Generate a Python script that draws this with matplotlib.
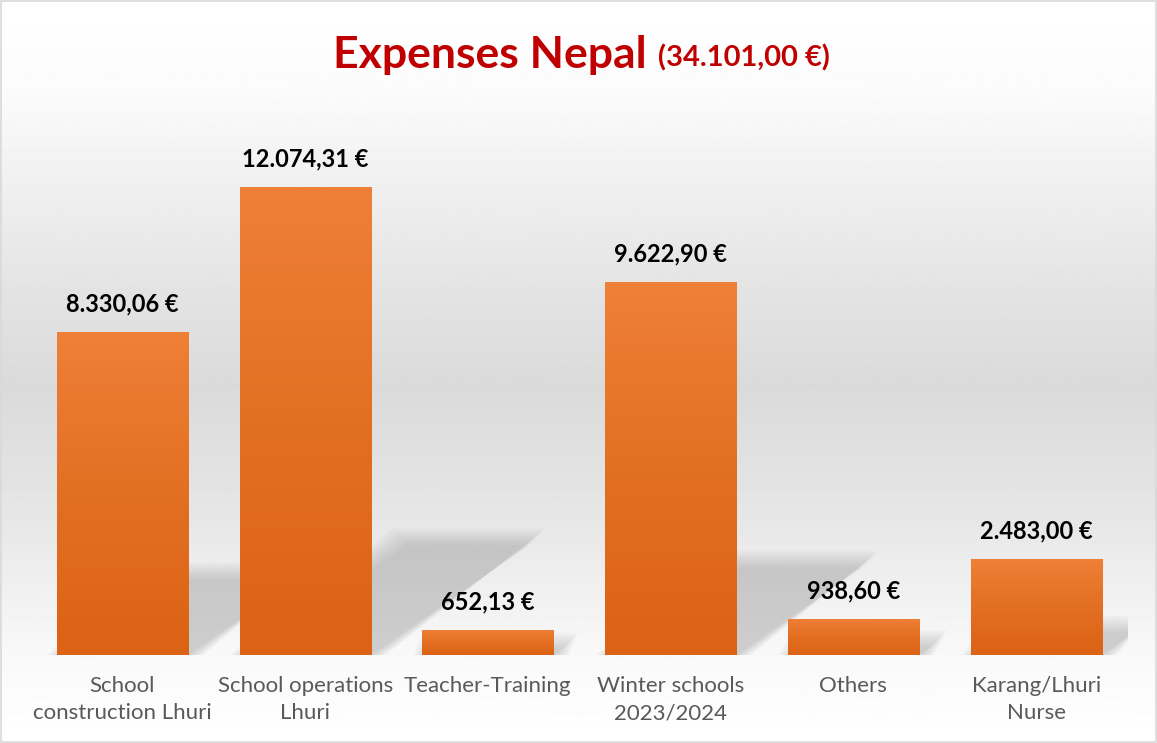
import numpy as np
import matplotlib
matplotlib.use("Agg")
import matplotlib.pyplot as plt
from matplotlib.colors import LinearSegmentedColormap
from matplotlib.patches import Polygon, Rectangle

categories = ["School\nconstruction Lhuri", "School operations\nLhuri", "Teacher-Training",
              "Winter schools\n2023/2024", "Others", "Karang/Lhuri\nNurse"]
amounts = [8330.06, 12074.31, 652.13, 9622.90, 938.60, 2483.00]
total = 34101.00


def euro(v):
    s = f"{v:,.2f}"
    s = s.replace(",", "X").replace(".", ",").replace("X", ".")
    return s + " €"


plt.rcParams['font.family'] = ['Lato', 'DejaVu Sans']

W, H = 1157, 743
fig = plt.figure(figsize=(W / 100, H / 100), dpi=100)

# background gradient (white -> gray -> white)
bg = fig.add_axes([0, 0, 1, 1], zorder=-10)
yy = np.linspace(0, 1, 400)  # 0 = top
stops_y = [0.0, 0.12, 0.35, 0.52, 0.70, 0.88, 1.0]
stops_c = [1.0, 0.985, 0.905, 0.855, 0.905, 0.975, 1.0]
col = np.interp(yy, stops_y, stops_c)
bg.imshow(np.repeat(col[:, None], 2, axis=1), cmap="gray", vmin=0, vmax=1,
          aspect="auto", extent=(0, 1, 0, 1))
bg.add_patch(Rectangle((0.0005, 0.001), 0.999, 0.998, transform=bg.transAxes,
                       fill=False, edgecolor="#d9d9d9", linewidth=1.2))
bg.set_axis_off()

ax = fig.add_axes([31 / W, 88 / H, (1127.5 - 31) / W, (655 - 120) / H])
ax.set_facecolor("none")
x = np.arange(len(categories))
width = 0.717

# soft perspective shadows behind the bars
k_shift = 0.87 / 12074.31
k_height = 0.235
for xi, h in zip(x, amounts):
    x0, x1 = xi - width / 2, xi + width / 2
    dx, hy = k_shift * h, k_height * h
    for i in range(8):
        e = 0.012 * i
        ey = 60 * i
        poly = Polygon([(x0 + 0.03 - e, 0), (x1 + e, 0), (x1 + dx + e, hy + ey), (x0 + dx + 0.05 - e, hy + ey)],
                       closed=True, facecolor="#8a8a8a", edgecolor="none", alpha=0.055, zorder=1)
        ax.add_patch(poly)

# bars with vertical orange gradient
cmap = LinearSegmentedColormap.from_list("org", ["#dc6215", "#e36f22", "#ef8037"])
grad = np.linspace(0, 1, 256)[:, None]
bars = ax.bar(x, amounts, width=width, color="none", edgecolor="none", zorder=3)
for b, h in zip(bars, amounts):
    im = ax.imshow(grad, cmap=cmap, aspect="auto", origin="lower",
                   extent=(b.get_x(), b.get_x() + b.get_width(), 0, h), zorder=3)
    im.set_clip_path(b)
ax.set_xlim(-0.5, len(categories) - 0.5)
ax.set_ylim(0, 13800)

for xi, h in zip(x, amounts):
    ax.annotate(euro(h), (xi, h), xytext=(0, 20), textcoords="offset points",
                ha="center", va="center", fontsize=17, fontweight="bold", color="black")

ax.set_xticks(x)
ax.set_xticklabels(categories, fontsize=16, color="#595959", linespacing=1.45, va="top")
ax.tick_params(axis="x", length=0, pad=15)
ax.set_yticks([])
for s in ax.spines.values():
    s.set_visible(False)

# title
t1 = fig.text(333 / W, 1 - 55 / H, "Expenses Nepal ", ha="left", va="center",
              color="#c00000", fontsize=32, fontweight="bold")
fig.canvas.draw()
bb = t1.get_window_extent()
fig.text(bb.x1 / W, 1 - 58 / H, "(" + euro(total) + ")", ha="left", va="center",
         color="#c00000", fontsize=21, fontweight="bold")

fig.savefig("out.png", dpi=100)
